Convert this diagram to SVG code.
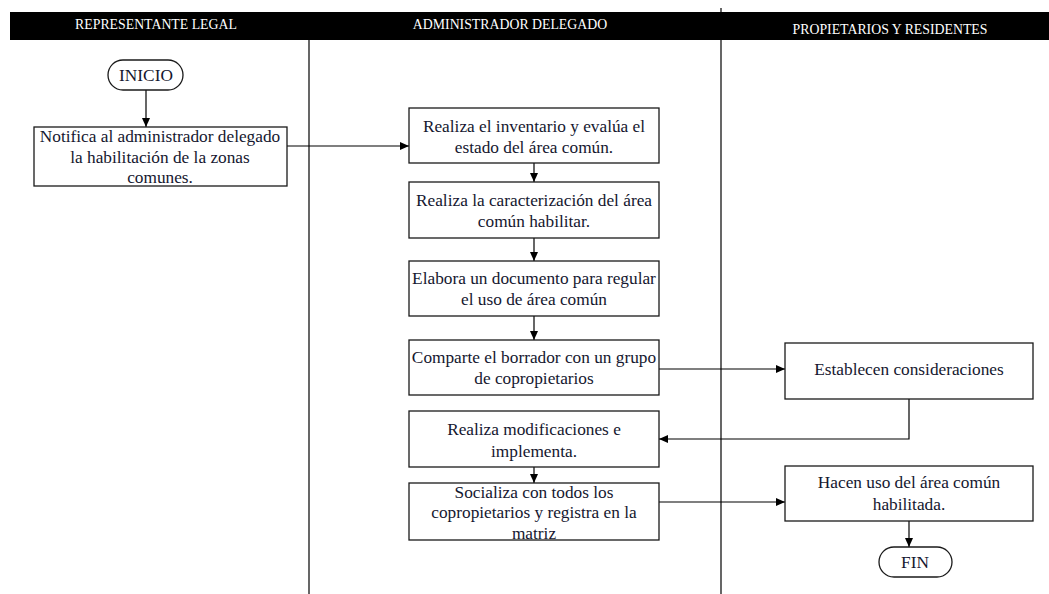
<svg xmlns="http://www.w3.org/2000/svg" width="1049" height="594" viewBox="0 0 1049 594">
  <style>
    .hdr { font-family: "Liberation Serif", "Times New Roman", "DejaVu Serif", serif; font-size: 13.8px; fill: #ffffff; text-anchor: middle; }
    .lane { stroke: #000; stroke-width: 1.2; fill: none; }
    .box { fill: #ffffff; stroke: #1a1a1a; stroke-width: 1.3; }
    .txt { font-family: "Liberation Serif", "Times New Roman", "DejaVu Serif", serif; font-size: 17.3px; fill: #15172f; text-anchor: middle; }
    .conn { stroke: #000; stroke-width: 1.2; fill: none; }
  </style>
  <defs>
    <marker id="arrow" markerWidth="10" markerHeight="10" refX="9" refY="5" orient="auto" markerUnits="userSpaceOnUse">
      <path d="M0,1 L9,5 L0,9 Z" fill="#000"/>
    </marker>
  </defs>

  <rect width="1049" height="594" fill="#ffffff"/>

  <!-- swimlane header and dividers -->
  <g id="lanes">
    <rect x="10" y="12" width="1039" height="28" fill="#000"/>
    <line class="lane" x1="721" y1="8" x2="721" y2="12"/>
    <line class="lane" x1="309" y1="40" x2="309" y2="594"/>
    <line class="lane" x1="721" y1="40" x2="721" y2="594"/>
    <text class="hdr" x="156" y="29">REPRESENTANTE LEGAL</text>
    <text class="hdr" x="510" y="29">ADMINISTRADOR DELEGADO</text>
    <text class="hdr" x="890" y="34">PROPIETARIOS Y RESIDENTES</text>
  </g>

  <!-- connectors -->
  <g id="connectors">
    <line class="conn" x1="146" y1="90" x2="146" y2="127" marker-end="url(#arrow)"/>
    <line class="conn" x1="287" y1="146" x2="409" y2="146" marker-end="url(#arrow)"/>
    <line class="conn" x1="534" y1="163" x2="534" y2="182" marker-end="url(#arrow)"/>
    <line class="conn" x1="534" y1="238" x2="534" y2="261" marker-end="url(#arrow)"/>
    <line class="conn" x1="534" y1="316" x2="534" y2="340" marker-end="url(#arrow)"/>
    <line class="conn" x1="659" y1="369" x2="785" y2="369" marker-end="url(#arrow)"/>
    <polyline class="conn" points="909,399 909,439 659,439" marker-end="url(#arrow)"/>
    <line class="conn" x1="534" y1="467" x2="534" y2="483" marker-end="url(#arrow)"/>
    <line class="conn" x1="659" y1="502" x2="785" y2="502" marker-end="url(#arrow)"/>
    <line class="conn" x1="909" y1="521" x2="909" y2="547" marker-end="url(#arrow)"/>
  </g>

  <g id="inicio">
    <rect class="box" x="108" y="60" width="75" height="30" rx="15" ry="15"/>
    <text class="txt" x="146" y="81">INICIO</text>
  </g>

  <g id="notifica">
    <rect class="box" x="34" y="127" width="253" height="59"/>
    <text class="txt" x="160" y="142">Notifica al administrador delegado</text>
    <text class="txt" x="160" y="163">la habilitación de la zonas</text>
    <text class="txt" x="160" y="183">comunes.</text>
  </g>

  <g id="inventario">
    <rect class="box" x="409" y="108" width="250" height="55"/>
    <text class="txt" x="534" y="132">Realiza el inventario y evalúa el</text>
    <text class="txt" x="534" y="153">estado del área común.</text>
  </g>

  <g id="caracterizacion">
    <rect class="box" x="409" y="182" width="250" height="56"/>
    <text class="txt" x="534" y="206">Realiza la caracterización del área</text>
    <text class="txt" x="534" y="227">común habilitar.</text>
  </g>

  <g id="documento">
    <rect class="box" x="409" y="261" width="250" height="55"/>
    <text class="txt" x="534" y="284">Elabora un documento para regular</text>
    <text class="txt" x="534" y="305">el uso de área común</text>
  </g>

  <g id="borrador">
    <rect class="box" x="409" y="340" width="250" height="55"/>
    <text class="txt" x="534" y="363">Comparte el borrador con un grupo</text>
    <text class="txt" x="534" y="384">de copropietarios</text>
  </g>

  <g id="consideraciones">
    <rect class="box" x="785" y="343" width="248" height="56"/>
    <text class="txt" x="909" y="375">Establecen consideraciones</text>
  </g>

  <g id="modificaciones">
    <rect class="box" x="409" y="411" width="250" height="56"/>
    <text class="txt" x="534" y="435">Realiza modificaciones e</text>
    <text class="txt" x="534" y="457">implementa.</text>
  </g>

  <g id="socializa">
    <rect class="box" x="409" y="483" width="250" height="57"/>
    <text class="txt" x="534" y="498">Socializa con todos los</text>
    <text class="txt" x="534" y="518">copropietarios y registra en la</text>
    <text class="txt" x="534" y="539">matriz</text>
  </g>

  <g id="uso">
    <rect class="box" x="785" y="466" width="248" height="55"/>
    <text class="txt" x="909" y="488">Hacen uso del área común</text>
    <text class="txt" x="909" y="510">habilitada.</text>
  </g>

  <g id="fin">
    <rect class="box" x="879" y="547" width="73" height="30" rx="15" ry="15"/>
    <text class="txt" x="915" y="568">FIN</text>
  </g>
</svg>
